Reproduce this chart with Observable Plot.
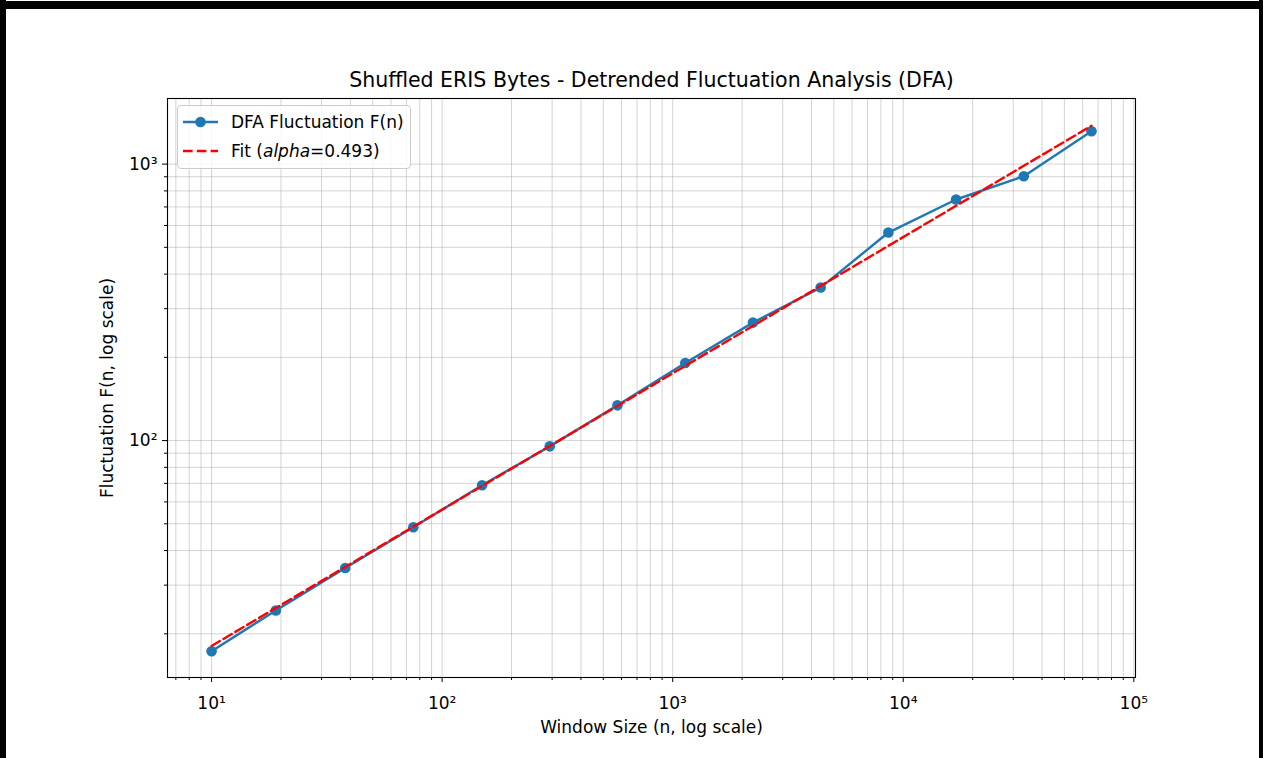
<!DOCTYPE html>
<html>
<head>
<meta charset="utf-8">
<script src="https://cdn.jsdelivr.net/npm/d3@7"></script>
<script src="https://cdn.jsdelivr.net/npm/@observablehq/plot@0.6"></script>
<style>
  html, body { margin: 0; padding: 0; background: #fff; }
  #page { position: relative; width: 1263px; height: 758px; overflow: hidden; background: #fff;
          font-family: "DejaVu Sans", sans-serif; }
  #chart { position: absolute; left: 0; top: 0; }
  .edge { position: absolute; background: #000; }
  #legend { position: absolute; left: 177px; top: 105px; width: 234px; height: 64px; box-sizing: border-box;
            border: 1px solid #cccccc; border-radius: 4px; background: rgba(255,255,255,0.8); }
  #legend svg { position: absolute; left: -1px; top: -1px; overflow: visible; }
</style>
</head>
<body>
<div id="page">
  <div id="chart"></div>
  <div id="legend"></div>
  <div class="edge" style="left:0;top:1px;width:1263px;height:8px"></div>
  <div class="edge" style="left:0;top:0;width:6px;height:758px"></div>
  <div class="edge" style="left:1259px;top:0;width:4px;height:758px"></div>
</div>
<script>
// DFA results: window sizes n and fluctuation F(n)
const windowSizes = [10, 19, 38, 75, 149, 293, 576, 1134, 2229, 4383, 8618, 16946, 33320, 65536];
const fluctuation = [17.3, 24.3, 34.6, 48.6, 68.9, 95.3, 134.1, 190.8, 267.1, 357.6, 565.5, 744.7, 904.2, 1315.5];
const alpha = 0.493;

// Labels
const titleText = "Shuffled ERIS Bytes - Detrended Fluctuation Analysis (DFA)";
const xLabel = "Window Size (n, log scale)";
const yLabel = "Fluctuation F(n, log scale)";
const seriesLabel = "DFA Fluctuation F(n)";
const fitLabelPrefix = "Fit (";
const fitLabelName = "alpha";

// Axis ticks
const xMajor = [10, 100, 1000, 10000, 100000];
const yMajor = [100, 1000];
const xMinor = [7, 8, 9, 20, 30, 40, 50, 60, 70, 80, 90, 200, 300, 400, 500, 600, 700, 800, 900,
  2000, 3000, 4000, 5000, 6000, 7000, 8000, 9000, 20000, 30000, 40000, 50000, 60000, 70000, 80000, 90000];
const yMinor = [20, 30, 40, 50, 60, 70, 80, 90, 200, 300, 400, 500, 600, 700, 800, 900];

const blue = "#1f77b4";
const red = "#ff0000";

const data = windowSizes.map((n, i) => ({n, F: fluctuation[i]}));

// Power-law fit F ~ C * n^alpha, intercept from the log-space means
const meanLogN = d3.mean(windowSizes, n => Math.log10(n));
const meanLogF = d3.mean(fluctuation, f => Math.log10(f));
const logC = meanLogF - alpha * meanLogN;
const fitData = windowSizes.map(n => ({n, F: Math.pow(10, logC + alpha * Math.log10(n))}));

const supDigits = {"0":"⁰","1":"¹","2":"²","3":"³","4":"⁴","5":"⁵","6":"⁶","7":"⁷","8":"⁸","9":"⁹","-":"⁻"};
const pow10 = v => "10" + String(Math.round(Math.log10(v))).split("").map(c => supDigits[c]).join("");

const font = '"DejaVu Sans", sans-serif';
const gridStyle = {stroke: "#b0b0b0", strokeOpacity: 0.55, strokeWidth: 1};

const chart = Plot.plot({
  width: 1263,
  height: 758,
  marginLeft: 167,
  marginRight: 128,
  marginTop: 98,
  marginBottom: 81,
  style: {fontFamily: font, fontSize: "17px", color: "#000", background: "transparent", overflow: "visible"},
  x: {type: "log", domain: [6.44, 101700]},
  y: {type: "log", domain: [13.9, 1727]},
  marks: [
    Plot.gridX(xMinor.concat(xMajor), gridStyle),
    Plot.gridY(yMinor.concat(yMajor), gridStyle),
    Plot.line(data, {x: "n", y: "F", stroke: blue, strokeWidth: 2.4}),
    Plot.dot(data, {x: "n", y: "F", r: 5.3, fill: blue, stroke: null}),
    Plot.line(fitData, {x: "n", y: "F", stroke: red, strokeWidth: 2.4, strokeDasharray: "9.6,4.2"}),
    Plot.frame({stroke: "#000", strokeWidth: 1.1}),
    Plot.axisX(xMajor, {tickSize: 5, tickPadding: 14, tickFormat: pow10, label: null, fontSize: 17}),
    Plot.axisX(xMinor, {tickSize: 3, tickFormat: () => "", label: null}),
    Plot.axisY(yMajor, {tickSize: 5, tickPadding: 5, tickFormat: pow10, label: null, fontSize: 17}),
    Plot.axisY(yMinor, {tickSize: 3, tickFormat: () => "", label: null}),
    Plot.text([titleText], {frameAnchor: "top", dy: -26, text: d => d, fontSize: 20.5, fill: "#000"}),
    Plot.text([xLabel], {frameAnchor: "bottom", dy: 55, text: d => d, fontSize: 17, fill: "#000"}),
    Plot.text([yLabel], {frameAnchor: "left", dx: -60, rotate: -90, textAnchor: "middle",
      text: d => d, fontSize: 17, fill: "#000"})
  ]
});
document.getElementById("chart").appendChild(chart);

// Legend inside the axes, upper left
const lg = d3.select("#legend").append("svg").attr("width", 234).attr("height", 64)
  .style("font-family", font).style("font-size", "17px");
lg.append("line").attr("x1", 6).attr("x2", 41).attr("y1", 17).attr("y2", 17)
  .attr("stroke", blue).attr("stroke-width", 2.4);
lg.append("circle").attr("cx", 23.5).attr("cy", 17).attr("r", 5.3).attr("fill", blue);
lg.append("line").attr("x1", 6).attr("x2", 41).attr("y1", 46).attr("y2", 46)
  .attr("stroke", red).attr("stroke-width", 2.4).attr("stroke-dasharray", "9.6,4.2");
lg.append("text").attr("x", 54).attr("y", 23).attr("fill", "#000").text(seriesLabel);
const t2 = lg.append("text").attr("x", 54).attr("y", 52).attr("fill", "#000");
t2.append("tspan").text(fitLabelPrefix);
t2.append("tspan").attr("font-style", "italic").text(fitLabelName);
t2.append("tspan").text("=" + alpha.toFixed(3) + ")");
</script>
</body>
</html>
